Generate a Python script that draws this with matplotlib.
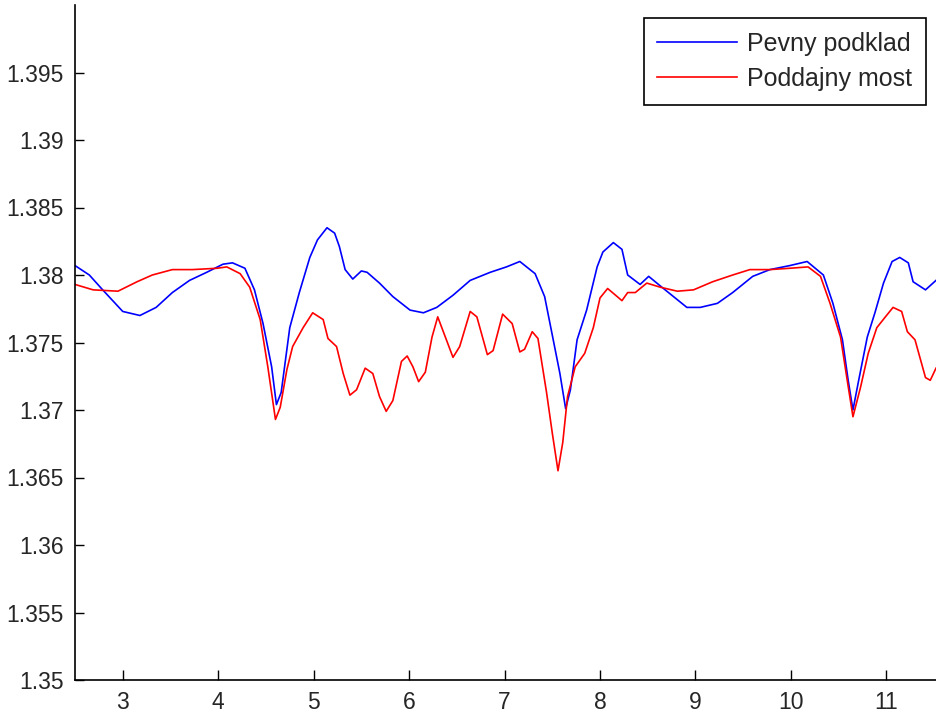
import matplotlib
matplotlib.use("Agg")
import matplotlib.pyplot as plt
from matplotlib.ticker import FuncFormatter

# Pevny podklad (blue)
pevny_x = [2.50, 2.65, 2.79, 3.00, 3.18, 3.35, 3.52, 3.70, 3.88, 4.05, 4.15, 4.28,
           4.38, 4.47, 4.56, 4.61, 4.66, 4.75, 4.85, 4.96, 5.04, 5.14, 5.22, 5.27,
           5.33, 5.41, 5.50, 5.56, 5.69, 5.83, 6.01, 6.15, 6.29, 6.46, 6.64, 6.85,
           7.02, 7.16, 7.32, 7.42, 7.51, 7.58, 7.64, 7.69, 7.76, 7.86, 7.97, 8.03,
           8.14, 8.23, 8.29, 8.42, 8.51, 8.63, 8.77, 8.91, 9.05, 9.23, 9.39, 9.60,
           9.78, 9.99, 10.17, 10.34, 10.44, 10.54, 10.60, 10.65, 10.71, 10.80, 10.88,
           10.97, 11.06, 11.14, 11.23, 11.28, 11.41, 11.52]
pevny_y = [1.3807, 1.3800, 1.3789, 1.3773, 1.3770, 1.3776, 1.3787, 1.3796, 1.3802,
           1.3808, 1.3809, 1.3805, 1.3789, 1.3764, 1.3732, 1.3704, 1.3713, 1.3761,
           1.3787, 1.3813, 1.3826, 1.3835, 1.3831, 1.3821, 1.3804, 1.3797, 1.3803,
           1.3802, 1.3794, 1.3784, 1.3774, 1.3772, 1.3776, 1.3785, 1.3796, 1.3802,
           1.3806, 1.3810, 1.3801, 1.3784, 1.3752, 1.3727, 1.3701, 1.3715, 1.3752,
           1.3774, 1.3806, 1.3817, 1.3824, 1.3819, 1.3800, 1.3793, 1.3799, 1.3792,
           1.3784, 1.3776, 1.3776, 1.3779, 1.3787, 1.3799, 1.3804, 1.3807, 1.3810,
           1.3800, 1.3779, 1.3752, 1.3722, 1.3700, 1.3722, 1.3754, 1.3772, 1.3794,
           1.3810, 1.3813, 1.3809, 1.3795, 1.3789, 1.3796]

# Poddajny most (red)
poddajny_x = [2.50, 2.69, 2.95, 3.15, 3.31, 3.52, 3.73, 3.99, 4.09, 4.23, 4.33, 4.44,
              4.52, 4.60, 4.65, 4.72, 4.78, 4.89, 4.99, 5.10, 5.15, 5.24, 5.31, 5.38,
              5.45, 5.54, 5.62, 5.69, 5.76, 5.83, 5.92, 5.98, 6.04, 6.10, 6.17, 6.24,
              6.30, 6.38, 6.46, 6.53, 6.64, 6.71, 6.82, 6.88, 6.98, 7.08, 7.16, 7.21,
              7.29, 7.35, 7.44, 7.50, 7.56, 7.61, 7.66, 7.74, 7.84, 7.93, 8.00, 8.08,
              8.23, 8.29, 8.37, 8.49, 8.63, 8.81, 8.98, 9.18, 9.39, 9.57, 9.78, 9.99,
              10.18, 10.31, 10.41, 10.52, 10.59, 10.65, 10.73, 10.81, 10.90, 10.99,
              11.07, 11.16, 11.22, 11.30, 11.41, 11.46, 11.52]
poddajny_y = [1.3793, 1.3789, 1.3788, 1.3795, 1.3800, 1.3804, 1.3804, 1.3805, 1.3806,
              1.3801, 1.3791, 1.3767, 1.3732, 1.3693, 1.3702, 1.3730, 1.3747, 1.3761,
              1.3772, 1.3767, 1.3753, 1.3747, 1.3727, 1.3711, 1.3715, 1.3731, 1.3727,
              1.3710, 1.3699, 1.3707, 1.3736, 1.3740, 1.3732, 1.3721, 1.3728, 1.3754,
              1.3769, 1.3754, 1.3739, 1.3747, 1.3773, 1.3769, 1.3741, 1.3744, 1.3771,
              1.3764, 1.3743, 1.3745, 1.3758, 1.3753, 1.3713, 1.3683, 1.3655, 1.3676,
              1.3710, 1.3732, 1.3742, 1.3761, 1.3783, 1.3790, 1.3781, 1.3787, 1.3787,
              1.3794, 1.3791, 1.3788, 1.3789, 1.3795, 1.3800, 1.3804, 1.3804, 1.3805,
              1.3806, 1.3799, 1.3779, 1.3754, 1.3722, 1.3695, 1.3717, 1.3742, 1.3761,
              1.3769, 1.3776, 1.3773, 1.3758, 1.3752, 1.3724, 1.3722, 1.3731]

x_ticks = [3, 4, 5, 6, 7, 8, 9, 10, 11]
y_ticks = [1.35, 1.355, 1.36, 1.365, 1.37, 1.375, 1.38, 1.385, 1.39, 1.395]

plt.rcParams['font.family'] = ['Liberation Sans', 'DejaVu Sans']

fig = plt.figure(figsize=(9.36, 7.16), dpi=100)
ax = fig.add_axes([75 / 936, 36 / 716, 861 / 936, 675 / 716])

ax.plot(pevny_x, pevny_y, color='#0000ff', lw=1.2, label='Pevny podklad')
ax.plot(poddajny_x, poddajny_y, color='#ff0000', lw=1.2, label='Poddajny most')

ax.set_xlim(2.5, 11.52)
ax.set_ylim(1.35, 1.40)
ax.set_xticks(x_ticks)
ax.set_yticks(y_ticks)
ax.yaxis.set_major_formatter(FuncFormatter(lambda v, p: ('%.3f' % v).rstrip('0').rstrip('.')))

for side in ['top', 'right']:
    ax.spines[side].set_visible(False)
for side in ['left', 'bottom']:
    ax.spines[side].set_linewidth(1.2)
ax.tick_params(axis='x', direction='in', length=7.5, width=1, labelsize=16.5,
               labelcolor='#262626', pad=8)
ax.tick_params(axis='y', direction='in', length=6.5, width=1, labelsize=16.5,
               labelcolor='#262626', pad=8)

# legend frame spans roughly px 636..926 horizontally, 18..101 vertically
leg = ax.legend(loc='upper right', bbox_to_anchor=((926 - 75) / 861, (680 - 18) / 675),
                bbox_transform=ax.transAxes, borderaxespad=0, fontsize=18,
                fancybox=False, framealpha=1, edgecolor='black',
                handlelength=3.2, handletextpad=0.4, borderpad=0.55,
                labelspacing=0.45)
leg.get_frame().set_linewidth(1.2)
for t in leg.get_texts():
    t.set_color('#262626')

fig.savefig('out.png', dpi=100)
